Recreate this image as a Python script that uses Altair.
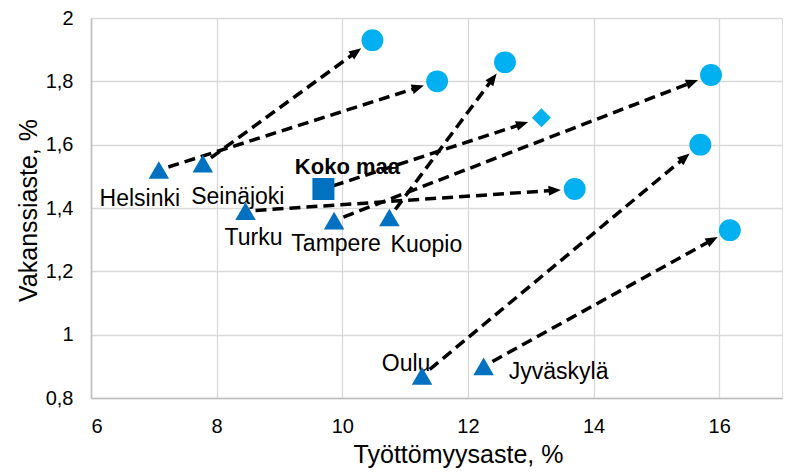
import math
import altair as alt
import pandas as pd

# ---- data ----
names = ["Helsinki", "Seinäjoki", "Turku", "Tampere", "Kuopio", "Oulu", "Jyväskylä", "Koko maa"]
x_start = [7.08, 7.78, 8.46, 9.87, 10.75, 11.27, 12.25, 9.70]
y_start = [1.52, 1.54, 1.39, 1.36, 1.37, 0.87, 0.90, 1.46]
x_end = [11.51, 10.48, 13.70, 15.87, 12.59, 15.70, 16.17, 13.17]
y_end = [1.80, 1.93, 1.46, 1.82, 1.86, 1.60, 1.33, 1.685]
x_ticks = [6, 8, 10, 12, 14, 16]
y_ticks = [0.8, 1, 1.2, 1.4, 1.6, 1.8, 2]

# ---- styling ----
W, H = 691, 380
XMIN, XMAX, YMIN, YMAX = 6, 17, 0.8, 2.0
FONT = "Liberation Sans"
DARK = "#0070C0"
LIGHT = "#00B0F0"
# label offsets (pixels) relative to the start marker
label_dx = {"Helsinki": -19, "Seinäjoki": 35, "Turku": 8, "Tampere": 2, "Kuopio": 37,
            "Oulu": -16, "Jyväskylä": 75, "Koko maa": 24}
label_dy = {"Helsinki": 29, "Seinäjoki": 33, "Turku": 27, "Tampere": 23, "Kuopio": 27,
            "Oulu": -12, "Jyväskylä": 6, "Koko maa": -22}

px = W / (XMAX - XMIN)
py = H / (YMAX - YMIN)

rows = []
for n, xa, ya, xb, yb in zip(names, x_start, y_start, x_end, y_end):
    dxp = (xb - xa) * px
    dyp = (yb - ya) * py
    L = math.hypot(dxp, dyp)
    ux, uy = dxp / L, dyp / L
    s0, s1 = 10, 14
    tipx, tipy = xb - ux * s1 / px, yb - uy * s1 / py
    rows.append(dict(
        name=n, x=xa, y=ya, xe=xb, ye=yb,
        sx=xa + ux * s0 / px, sy=ya + uy * s0 / py,
        lx=tipx - ux * 9 / px, ly=tipy - uy * 9 / py,
        hx=tipx - ux * 6 / px, hy=tipy - uy * 6 / py,
        angle=math.degrees(math.atan2(ux, uy)) % 360,
        kind="maa" if n == "Koko maa" else "city",
    ))
df = pd.DataFrame(rows)

xscale = alt.Scale(domain=[XMIN, XMAX], nice=False, zero=False)
yscale = alt.Scale(domain=[YMIN, YMAX], nice=False, zero=False)

xaxis = alt.Axis(title="Työttömyysaste, %", values=x_ticks, grid=True, gridColor="#D9D9D9",
                 gridWidth=1.3, domainColor="#BFBFBF", domainWidth=1.6, ticks=False,
                 labelPadding=18, labelFontSize=20, labelFont=FONT, labelColor="#000000",
                 titleFont=FONT, titleFontSize=25, titleFontWeight="normal", titleColor="#000000",
                 titleX=367, titleY=64, titleBaseline="alphabetic")
yaxis = alt.Axis(title="Vakanssiaste, %", values=y_ticks, grid=True, gridColor="#D9D9D9",
                 gridWidth=1.3, domainColor="#BFBFBF", domainWidth=1.6, ticks=False,
                 labelPadding=18, labelFontSize=20, labelFont=FONT, labelColor="#000000",
                 labelExpr="replace(format(datum.value, '.1~f'), '.', ',')",
                 titleFont=FONT, titleFontSize=25, titleFontWeight="normal", titleColor="#000000",
                 titleX=-55, titleY=192, titleBaseline="alphabetic")


def X(f):
    return alt.X(f, type="quantitative", scale=xscale, axis=xaxis)


def Y(f):
    return alt.Y(f, type="quantitative", scale=yscale, axis=yaxis)


base = alt.Chart(df)
layers = []

# labels
for n in names:
    bold = n == "Koko maa"
    layers.append(
        base.transform_filter(alt.datum.name == n).mark_text(
            font=FONT, fontSize=22 if bold else 23, fontWeight="bold" if bold else "normal",
            color="#000000", align="center", baseline="middle", dx=label_dx[n], dy=label_dy[n]
        ).encode(x=X("x"), y=Y("y"), text="name:N")
    )

# dashed arrow shafts
layers.append(
    base.mark_rule(color="#000000", strokeWidth=3.5, strokeDash=[11, 6]).encode(
        x=X("sx"), y=Y("sy"), x2="lx", y2="ly")
)
# arrow heads
layers.append(
    base.mark_point(shape="M0,-1L0.8,1L-0.8,1Z", filled=True, color="#000000", opacity=1,
                    size=150, strokeWidth=0).encode(
        x=X("hx"), y=Y("hy"), angle=alt.Angle("angle:Q", scale=None))
)
# start markers
layers.append(
    base.transform_filter(alt.datum.kind == "city").mark_point(
        shape="triangle-up", filled=True, color=DARK, opacity=1, size=420, strokeWidth=0
    ).encode(x=X("x"), y=Y("y"))
)
layers.append(
    base.transform_filter(alt.datum.kind == "maa").mark_point(
        shape="square", filled=True, color=DARK, opacity=1, size=484, strokeWidth=0
    ).encode(x=X("x"), y=Y("y"))
)
# end markers
layers.append(
    base.transform_filter(alt.datum.kind == "city").mark_point(
        shape="circle", filled=True, color=LIGHT, opacity=1, size=480, strokeWidth=0
    ).encode(x=X("xe"), y=Y("ye"))
)
layers.append(
    base.transform_filter(alt.datum.kind == "maa").mark_point(
        shape="diamond", filled=True, color=LIGHT, opacity=1, size=361, strokeWidth=0
    ).encode(x=X("xe"), y=Y("ye"))
)

chart = alt.layer(*layers).properties(
    width=W, height=H,
    autosize=alt.AutoSizeParams(type="none"),
    padding={"left": 83, "top": 10, "right": 14, "bottom": 76},
).configure_view(stroke=None).configure(background="white")

chart.save("out.html", embed_options={"renderer": "svg", "actions": False})
